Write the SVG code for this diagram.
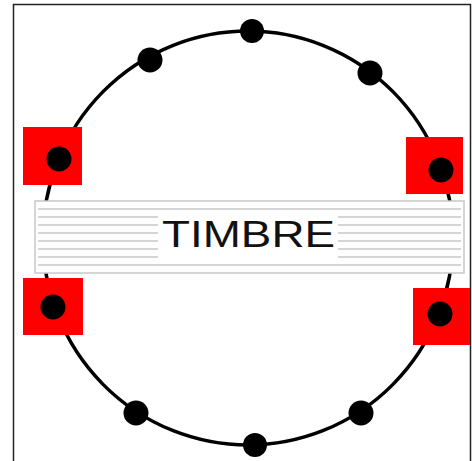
<svg xmlns="http://www.w3.org/2000/svg" width="472" height="461" viewBox="0 0 472 461">
  <style>
    .dot { fill: #000; }
    .sq { fill: #ff0000; }
    .ring { fill: none; stroke: #000; stroke-width: 3.5; }
    .stave { stroke: #c8c8c8; stroke-width: 1.5; }
    .lbl { font-family: "Liberation Sans", Arial, sans-serif; font-size: 37px; fill: #111; }
  </style>
  <rect x="0" y="0" width="472" height="461" fill="#fff"/>
  <path d="M13.5 470 V4.5 H470.5 V470" fill="none" stroke="#222" stroke-width="1.5"/>
  <g id="connectors">
    <ellipse class="ring" cx="248" cy="238" rx="205" ry="207"/>
  </g>
  <g id="band">
    <rect x="35" y="201" width="429" height="72" fill="#fff" stroke="#c8c8c8" stroke-width="1.5"/>
    <g class="stave">
      <line x1="38" y1="209" x2="461" y2="209"/>
      <line x1="38" y1="217" x2="461" y2="217"/>
      <line x1="38" y1="225" x2="461" y2="225"/>
      <line x1="38" y1="233" x2="461" y2="233"/>
      <line x1="38" y1="241" x2="461" y2="241"/>
      <line x1="38" y1="249" x2="461" y2="249"/>
      <line x1="38" y1="257" x2="461" y2="257"/>
      <line x1="38" y1="265" x2="461" y2="265"/>
    </g>
    <rect x="158" y="212" width="180" height="46" fill="#fff"/>
    <text class="lbl" x="162" y="247" textLength="173" lengthAdjust="spacingAndGlyphs">TIMBRE</text>
  </g>
  <g id="dot-top"><circle class="dot" cx="252" cy="31" r="12"/></g>
  <g id="dot-upper-left"><circle class="dot" cx="150" cy="60" r="12.5"/></g>
  <g id="dot-upper-right"><circle class="dot" cx="370" cy="73" r="12.5"/></g>
  <g id="dot-lower-left"><circle class="dot" cx="136" cy="413" r="12.5"/></g>
  <g id="dot-bottom"><circle class="dot" cx="255" cy="445" r="12"/></g>
  <g id="dot-lower-right"><circle class="dot" cx="361" cy="413" r="12.5"/></g>
  <g id="square-top-left">
    <rect class="sq" x="23" y="127" width="59" height="58"/>
    <circle class="dot" cx="59" cy="159" r="12.5"/>
  </g>
  <g id="square-top-right">
    <rect class="sq" x="406" y="137" width="57" height="57"/>
    <circle class="dot" cx="441" cy="170" r="12.5"/>
  </g>
  <g id="square-bottom-left">
    <rect class="sq" x="23" y="278" width="60" height="57"/>
    <circle class="dot" cx="53" cy="307" r="12.5"/>
  </g>
  <g id="square-bottom-right">
    <rect class="sq" x="413" y="288" width="57" height="57"/>
    <circle class="dot" cx="440" cy="314" r="12.5"/>
  </g>
</svg>
